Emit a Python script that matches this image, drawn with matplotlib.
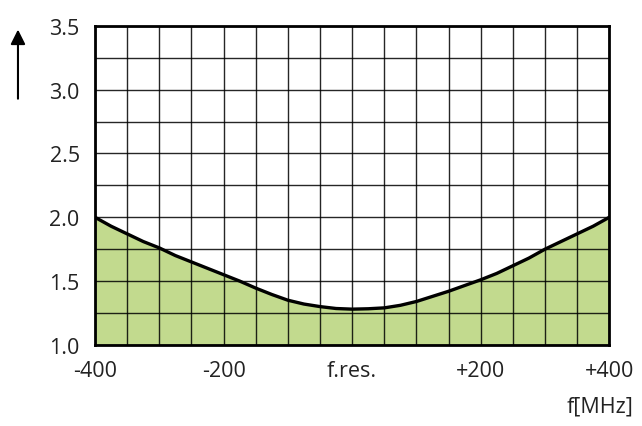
import matplotlib
matplotlib.use("Agg")
import matplotlib.pyplot as plt
import numpy as np

# values (frequency offset in MHz, ratio)
freq = [-400, -375, -350, -325, -300, -275, -250, -225, -200, -175, -150, -125, -100, -75, -50, -25,
        0, 25, 50, 75, 100, 125, 150, 175, 200, 225, 250, 275, 300, 325, 350, 375, 400]
vswr = [2.0, 1.93, 1.87, 1.81, 1.76, 1.70, 1.65, 1.60, 1.55, 1.50, 1.445, 1.395, 1.35, 1.32, 1.30, 1.285,
        1.28, 1.283, 1.29, 1.31, 1.34, 1.38, 1.42, 1.465, 1.51, 1.56, 1.62, 1.68, 1.75, 1.81, 1.87, 1.93, 2.0]
xticks = [-400, -200, 0, 200, 400]
xlabels = ["-400", "-200", "f.res.", "+200", "+400"]
yticks = [1.0, 1.5, 2.0, 2.5, 3.0, 3.5]
ylabels = ["1.0", "1.5", "2.0", "2.5", "3.0", "3.5"]

plt.rcParams['font.family'] = ['Open Sans', 'DejaVu Sans']

fig = plt.figure(figsize=(6.42, 4.27), dpi=100)
ax = fig.add_axes([0.148, 0.19, 0.801, 0.747])

ax.fill_between(freq, 1.0, vswr, color='#c2da8e', zorder=1)
ax.plot(freq, vswr, color='black', lw=2.4, zorder=3, solid_capstyle='round', solid_joinstyle='round')

ax.set_xlim(-400, 400)
ax.set_ylim(1.0, 3.5)
ax.set_xticks(np.arange(-400, 401, 50), minor=True)
ax.set_yticks(np.arange(1.0, 3.51, 0.25), minor=True)
ax.set_xticks(xticks)
ax.set_xticklabels(xlabels, fontsize=15.5)
ax.set_yticks(yticks)
ax.set_yticklabels(ylabels, fontsize=15.5)
ax.grid(True, which='both', color='black', lw=1.0, alpha=0.85, zorder=2)
ax.set_axisbelow(False)
ax.tick_params(which='both', length=0, colors='#222222')
ax.tick_params(axis='x', pad=11)
ax.tick_params(axis='y', pad=11)
for s in ax.spines.values():
    s.set_linewidth(2)
    s.set_zorder(4)

fig.text(0.987, 0.022, "f[MHz]", ha='right', va='bottom', fontsize=15.5, color='#222222')
fig.add_artist(matplotlib.patches.FancyArrowPatch((0.028, 0.76), (0.028, 0.935),
               transform=fig.transFigure, arrowstyle='-|>', mutation_scale=22,
               color='black', lw=1.5))

fig.savefig("out.png", dpi=100)
